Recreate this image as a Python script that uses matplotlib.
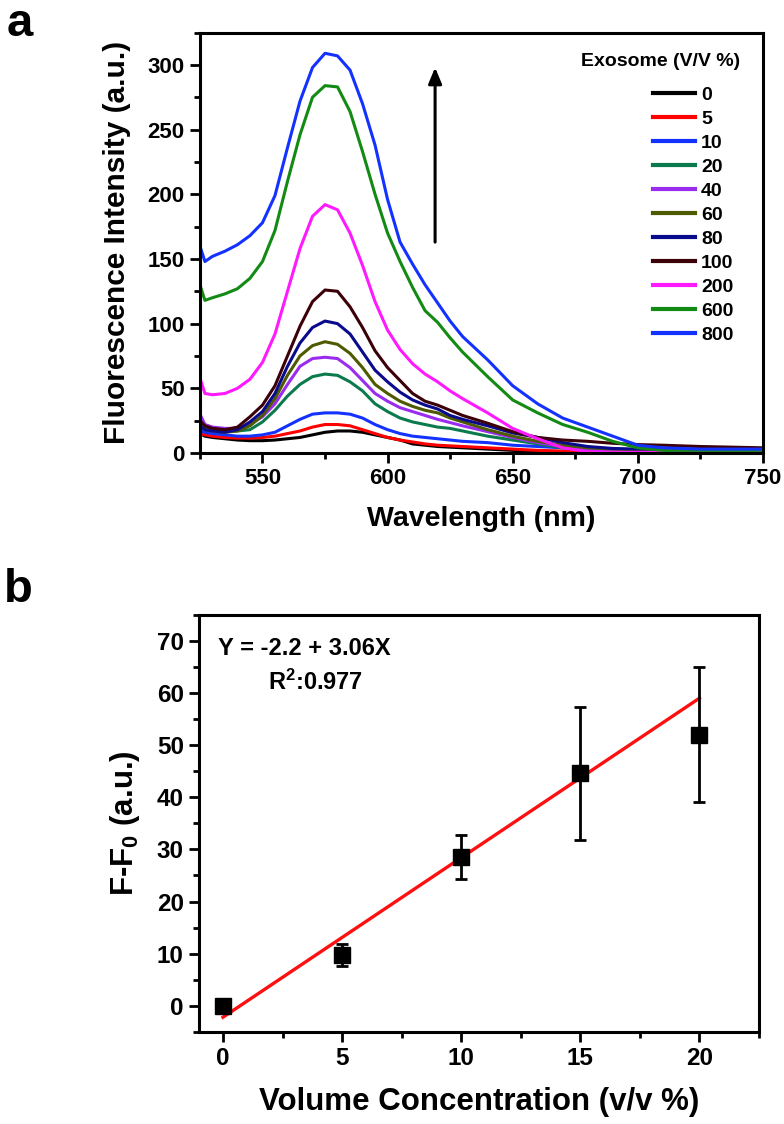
import numpy as np
import matplotlib
matplotlib.use("Agg")
import matplotlib.pyplot as plt
from matplotlib.ticker import MultipleLocator

plt.rcParams['font.family'] = ['Liberation Sans', 'DejaVu Sans']
plt.rcParams['font.weight'] = 'bold'
plt.rcParams['mathtext.fontset'] = 'custom'
plt.rcParams['mathtext.rm'] = 'Liberation Sans:bold'
plt.rcParams['mathtext.bf'] = 'Liberation Sans:bold'
plt.rcParams['mathtext.default'] = 'rm'

# ---- panel a : spectra ----
wavelength = [525, 527, 530, 535, 540, 545, 550, 555, 560, 565, 570, 575, 580, 585, 590,
              595, 600, 605, 610, 615, 620, 625, 630, 640, 650, 660, 670, 680, 690, 700,
              710, 725, 750]

conc_labels = ['0', '5', '10', '20', '40', '60', '80', '100', '200', '600', '800']
line_colors = ['#000000', '#ff0000', '#1432ff', '#0b7a4c', '#9a2cf0', '#4f5a00',
               '#0a0a8c', '#3c0008', '#ff19ff', '#138a13', '#1432ff']

s0 = [15, 13, 12, 11, 10, 9.5, 9.5, 10, 11, 12, 14, 16, 17, 17, 16, 14, 12, 10, 7, 6, 5,
      4.5, 4, 3, 2, 1.5, 1, 1, 1, 1, 1, 1, 1]
s5 = [15, 14, 13, 12, 11.5, 11.5, 12, 13, 15, 17, 20, 22, 22, 21, 18, 15, 12, 10, 8.5, 7,
      6, 5.5, 5, 4, 3, 2, 1.5, 1, 1, 1, 1, 1, 1]
s10 = [17, 16, 15, 14, 13, 13, 14, 16, 21, 26, 30, 31, 31, 30, 27, 22, 18, 15, 13, 12, 11,
       10, 9, 8, 6, 5, 4, 3, 2.5, 2.5, 2, 2, 2]
s20 = [22, 19, 18, 17, 17, 18, 24, 33, 44, 53, 59, 61, 60, 55, 48, 38, 32, 27, 24, 22, 20,
       19, 17, 13, 10, 7, 4, 2.5, 2, 1.5, 1, 1, 1]
s40 = [30, 22, 20, 19, 19, 22, 28, 38, 53, 67, 73, 74, 73, 66, 56, 46, 40, 35, 32, 29, 26,
       23.5, 21, 16.5, 12, 8, 5, 3, 2, 1.5, 1.5, 1.5, 1.5]
s60 = [20, 18, 17, 16, 17, 21, 29, 42, 60, 75, 83, 86, 84, 77, 66, 53, 46, 40, 36, 33, 31,
       27, 24, 18, 13, 9, 6, 4, 3, 2.5, 2, 2, 2]
s80 = [21, 18, 17, 16, 18, 24, 32, 46, 67, 85, 97, 102, 100, 92, 78, 64, 55, 47, 41, 37, 34,
       29, 26, 21, 15.5, 12, 8, 5, 3.5, 3, 3, 3, 3]
s100 = [25, 21, 19, 18, 20, 28, 37, 52, 75, 98, 117, 126, 125, 113, 97, 79, 66, 56, 46, 40,
        37, 33, 29, 23, 16.5, 12, 10, 9, 7.5, 6.5, 6, 5, 4]
s200 = [58, 46, 45, 46, 50, 57, 70, 92, 125, 158, 183, 192, 188, 170, 145, 117, 95, 80, 69,
        61, 55, 48, 42, 31, 19, 11, 4, 1, 0.5, 0.5, 0.5, 0.5, 0.5]
s600 = [130, 118, 120, 123, 127, 135, 148, 172, 210, 246, 275, 284, 283, 264, 233, 200, 170,
        148, 128, 110, 101, 89, 78, 59, 41, 31, 22, 16, 9, 4, 2, 2, 2]
s800 = [160, 148, 152, 156, 161, 168, 178, 199, 236, 272, 298, 309, 307, 296, 270, 238, 196,
        163, 146, 130, 116, 102, 90, 72, 52, 38, 27, 20, 13, 6, 4, 3, 3]
spectra = [s0, s5, s10, s20, s40, s60, s80, s100, s200, s600, s800]

# arrow (wavelength, intensity from -> to)
arrow_x = 619
arrow_y0 = 163
arrow_y1 = 298

# ---- panel b : calibration ----
vol_conc = [0, 5, 10, 15, 20]
delta_f = [0, 9.7, 28.5, 44.6, 52.0]
delta_f_err = [0, 2.1, 4.2, 12.8, 13.0]
fit_intercept = -2.2
fit_slope = 3.06

fig = plt.figure(figsize=(7.84, 11.24), dpi=100)

ax1 = fig.add_axes([0.255, 0.597, 0.718, 0.374])
x = np.array(wavelength)
for lab, col, s in zip(conc_labels, line_colors, spectra):
    ax1.plot(x, s, color=col, lw=2.2, label=lab)

ax1.annotate('', xy=(arrow_x, arrow_y1), xytext=(arrow_x, arrow_y0),
             arrowprops=dict(arrowstyle='-|>,head_length=0.6,head_width=0.25', color='black',
                             lw=2.2, mutation_scale=16, shrinkA=0, shrinkB=0))

ax1.set_xlim(525, 750)
ax1.set_ylim(0, 325)
ax1.xaxis.set_major_locator(MultipleLocator(50))
ax1.xaxis.set_minor_locator(MultipleLocator(25))
ax1.yaxis.set_major_locator(MultipleLocator(50))
ax1.yaxis.set_minor_locator(MultipleLocator(25))
ax1.set_xlabel('Wavelength (nm)', fontsize=20.5, fontweight='bold', labelpad=12)
ax1.set_ylabel('Fluorescence Intensity (a.u.)', fontsize=21.5, fontweight='bold', labelpad=12)

# legend title drawn separately so the gap above the entries matches
ax1.text(0.959, 0.931, 'Exosome (V/V %)', transform=ax1.transAxes, ha='right', va='center',
         fontsize=14, fontweight='bold')
leg = ax1.legend(loc='upper right', bbox_to_anchor=(0.965, 0.896),
                 frameon=False, fontsize=14, handlelength=2.15,
                 handletextpad=0.3, labelspacing=0.33, borderpad=0)
for ln in leg.get_lines():
    ln.set_linewidth(3)

ax2 = fig.add_axes([0.254, 0.082, 0.714, 0.371])
xs = np.array(vol_conc)
ax2.plot(xs, fit_intercept + fit_slope * xs, color='#ff1010', lw=2.4, zorder=2)
ax2.errorbar(vol_conc, delta_f, yerr=delta_f_err, fmt='s', color='black', ms=11,
             ecolor='black', elinewidth=2, capsize=4.5, capthick=2, zorder=3)
ax2.text(-0.2, 68.5, 'Y = -2.2 + 3.06X', fontsize=17, fontweight='bold', va='center')
ax2.text(1.9, 62, 'R$^2$:0.977', fontsize=17, fontweight='bold', va='center')

ax2.set_xlim(-1, 22.5)
ax2.set_ylim(-5, 75)
ax2.xaxis.set_major_locator(MultipleLocator(5))
ax2.xaxis.set_minor_locator(MultipleLocator(2.5))
ax2.yaxis.set_major_locator(MultipleLocator(10))
ax2.yaxis.set_minor_locator(MultipleLocator(5))
ax2.set_xlabel('Volume Concentration (v/v %)', fontsize=22.5, fontweight='bold', labelpad=12)
ax2.set_ylabel('F-F$_0$ (a.u.)', fontsize=22.5, fontweight='bold', labelpad=11)

for ax, fs in [(ax1, 16), (ax2, 17.5)]:
    for sp in ax.spines.values():
        sp.set_linewidth(2.2)
    ax.tick_params(which='major', direction='out', length=7, width=2, labelsize=fs, pad=4)
    ax.tick_params(which='minor', direction='out', length=4, width=2)
    for t in ax.get_xticklabels() + ax.get_yticklabels():
        t.set_fontweight('bold')

fig.text(0.008, 0.998, 'a', fontsize=34, fontweight='bold', va='top', ha='left')
fig.text(0.005, 0.495, 'b', fontsize=34, fontweight='bold', va='top', ha='left')

fig.savefig('out.png', dpi=100)
